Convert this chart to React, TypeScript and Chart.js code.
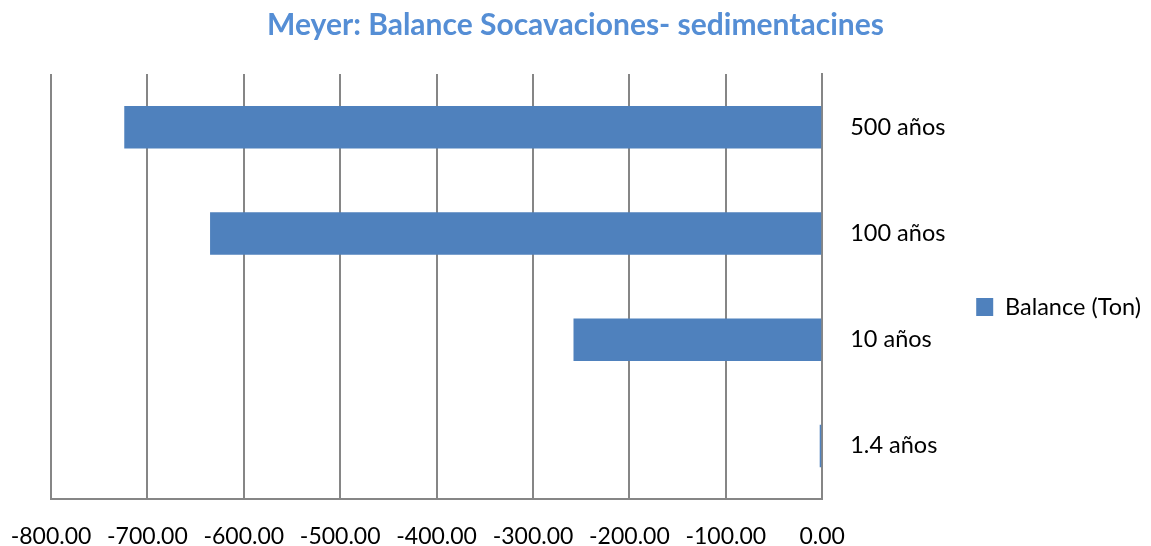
import React, { useEffect, useRef } from "react";
import { Chart, registerables } from "chart.js";

Chart.register(...registerables);

const categories = ["500 años", "100 años", "10 años", "1.4 años"];
const balanceValues = [-724, -635, -258, -2.6];
const seriesLabel = "Balance (Ton)";
const chartTitle = "Meyer: Balance Socavaciones- sedimentacines";
const xMin = -800;
const xMax = 0;
const xStep = 100;

export default function App() {
  const canvasRef = useRef<HTMLCanvasElement | null>(null);

  useEffect(() => {
    if (!canvasRef.current) return;
    const gridColor = "rgb(134,134,134)";
    const chart = new Chart(canvasRef.current, {
      type: "bar",
      data: {
        labels: categories,
        datasets: [
          {
            label: seriesLabel,
            data: balanceValues,
            backgroundColor: "#4F81BD",
            borderWidth: 0,
            barPercentage: 0.4,
            categoryPercentage: 1,
          },
        ],
      },
      options: {
        indexAxis: "y",
        animation: false,
        responsive: true,
        maintainAspectRatio: false,
        layout: { padding: { left: 0, right: 0, top: 0, bottom: 0 } },
        plugins: {
          title: {
            display: true,
            text: chartTitle,
            color: "rgb(85,142,213)",
            font: { family: "Lato", size: 30, weight: "bold", lineHeight: 1.2 },
            padding: { top: 7, bottom: 31 },
          },
          legend: {
            display: true,
            position: "right",
            title: {
              display: true,
              text: " ",
              padding: { top: 40, bottom: 0 },
              font: { family: "Lato", size: 23.5 },
            },
            labels: {
              color: "#000",
              font: { family: "Lato", size: 23.5 },
              boxWidth: 17,
              boxHeight: 18,
              padding: 8,
            },
          },
          tooltip: { enabled: false },
        },
        scales: {
          x: {
            type: "linear",
            min: xMin,
            max: xMax,
            ticks: {
              stepSize: xStep,
              color: "#000",
              font: { family: "Lato", size: 23 },
              padding: 24,
              maxRotation: 0,
              autoSkip: false,
              callback: (v: any) => Number(v).toFixed(2),
            },
            grid: {
              color: gridColor,
              lineWidth: 2,
              drawTicks: false,
            },
            border: { display: true, color: gridColor, width: 2 },
            afterFit: (scale: any) => {
              scale.height = 47;
              scale.paddingLeft = 51;
            },
          },
          y: {
            position: "right",
            ticks: {
              color: "#000",
              font: { family: "Lato", size: 23.5 },
              padding: 28,
              crossAlign: "near",
            },
            grid: { display: false, drawTicks: false },
            border: { display: true, color: gridColor, width: 2 },
            afterFit: (scale: any) => {
              scale.width = 146;
            },
          },
        },
      },
    });
    return () => chart.destroy();
  }, []);

  return (
    <div style={{ position: "absolute", left: 0, top: 0, width: 1151, height: 546 }}>
      <canvas ref={canvasRef} />
    </div>
  );
}
